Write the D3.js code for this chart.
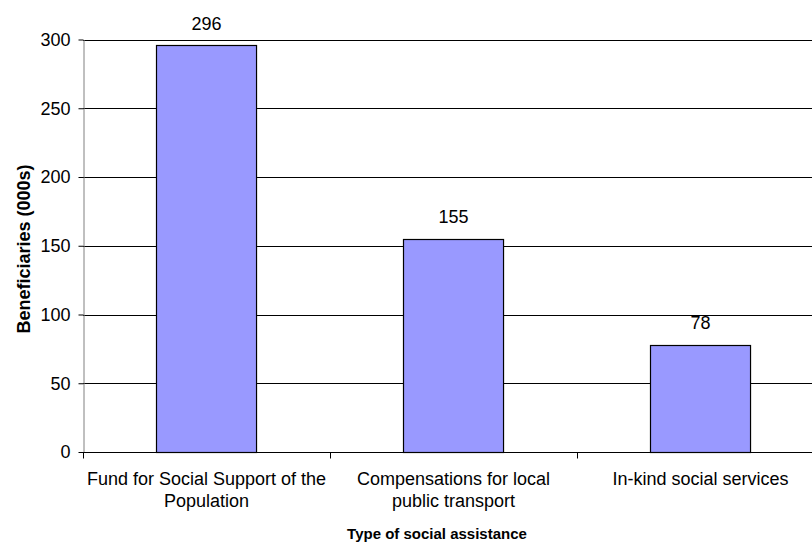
<!DOCTYPE html>
<html>
<head>
<meta charset="utf-8">
<script src="https://cdn.jsdelivr.net/npm/d3@7"></script>
<style>
  body { margin: 0; background: #fff; overflow: hidden; }
  svg { font-family: "Liberation Sans", Arial, sans-serif; }
</style>
</head>
<body>
<svg id="chart"></svg>
<script>
var categories = [
    ['Fund for Social Support of the', 'Population'],
    ['Compensations for local', 'public transport'],
    ['In-kind social services']
];
var values = [296, 155, 78];
var yTicks = [0, 50, 100, 150, 200, 250, 300];

var width = 812;
var height = 542;
var plotLeft = 83, plotRight = 824, plotTop = 39.5, plotBottom = 452;

var svg = d3.select('#chart')
    .attr('width', width)
    .attr('height', height);

var keys = categories.map(function (c) { return c.join(' '); });

var xs = d3.scaleBand().domain(keys).range([plotLeft, plotRight]).padding(0);
var ys = d3.scaleLinear().domain([0, 300]).range([plotBottom, plotTop]);

// gridlines
svg.append('g')
    .selectAll('line').data(yTicks.filter(function (d) { return d > 0; }))
    .enter()
    .append('line')
    .attr('x1', plotLeft)
    .attr('x2', plotRight)
    .attr('y1', function (d) { return Math.round(ys(d)) + 0.5; })
    .attr('y2', function (d) { return Math.round(ys(d)) + 0.5; })
    .attr('stroke', '#000')
    .attr('stroke-width', 1);

// y axis
var yAxis = svg.append('g')
    .attr('transform', 'translate(' + (plotLeft + 0.5) + ',0)')
    .call(d3.axisLeft(ys).tickValues(yTicks).tickSize(5).tickSizeOuter(0).tickPadding(8));
yAxis.select('.domain').attr('stroke', '#808080');
yAxis.selectAll('.tick line').attr('stroke', '#000');
yAxis.selectAll('text')
    .style('font-size', '18px')
    .attr('fill', '#000');

// bars
var barW = xs.bandwidth() * 0.405;
svg.append('g')
    .selectAll('rect').data(values)
    .enter()
    .append('rect')
    .attr('x', function (d, i) { return Math.round(xs(keys[i]) + xs.bandwidth() / 2 - barW / 2) + 0.5; })
    .attr('y', function (d) { return Math.round(ys(d)) + 0.5; })
    .attr('width', barW)
    .attr('height', function (d) { return Math.round(ys(0)) - Math.round(ys(d)); })
    .attr('fill', '#9999FF')
    .attr('stroke', '#000')
    .attr('stroke-width', 1.2);

// value labels
svg.append('g')
    .selectAll('text').data(values)
    .enter()
    .append('text')
    .attr('x', function (d, i) { return xs(keys[i]) + xs.bandwidth() / 2; })
    .attr('y', function (d) { return ys(d) - 15.5; })
    .attr('text-anchor', 'middle')
    .style('font-size', '18px')
    .text(function (d) { return d; });

// x axis
var xAxis = svg.append('g')
    .attr('transform', 'translate(0,' + (Math.round(plotBottom) + 0.5) + ')');
xAxis.append('line')
    .attr('x1', plotLeft)
    .attr('x2', plotRight)
    .attr('stroke', '#000');
xAxis.selectAll('line.tk').data(d3.range(keys.length + 1))
    .enter()
    .append('line')
    .attr('class', 'tk')
    .attr('x1', function (d) { return Math.round(plotLeft + d * xs.step()) + 0.5; })
    .attr('x2', function (d) { return Math.round(plotLeft + d * xs.step()) + 0.5; })
    .attr('y1', 0)
    .attr('y2', 6)
    .attr('stroke', '#000');

xAxis.selectAll('text.cat').data(categories)
    .enter()
    .append('text')
    .attr('class', 'cat')
    .attr('text-anchor', 'middle')
    .style('font-size', '18px')
    .each(function (c, i) {
        var t = d3.select(this);
        var cx = xs(keys[i]) + xs.bandwidth() / 2;
        c.forEach(function (line, j) {
            t.append('tspan')
                .attr('x', cx)
                .attr('y', 32.5 + j * 22)
                .text(line);
        });
    });

// axis titles
svg.append('text')
    .attr('x', 437)
    .attr('y', 539)
    .attr('text-anchor', 'middle')
    .style('font-size', '15px')
    .style('font-weight', 'bold')
    .text('Type of social assistance');

svg.append('text')
    .attr('transform', 'translate(30,249) rotate(-90)')
    .attr('text-anchor', 'middle')
    .style('font-size', '18px')
    .style('font-weight', 'bold')
    .text('Beneficiaries (000s)');
</script>
</body>
</html>
